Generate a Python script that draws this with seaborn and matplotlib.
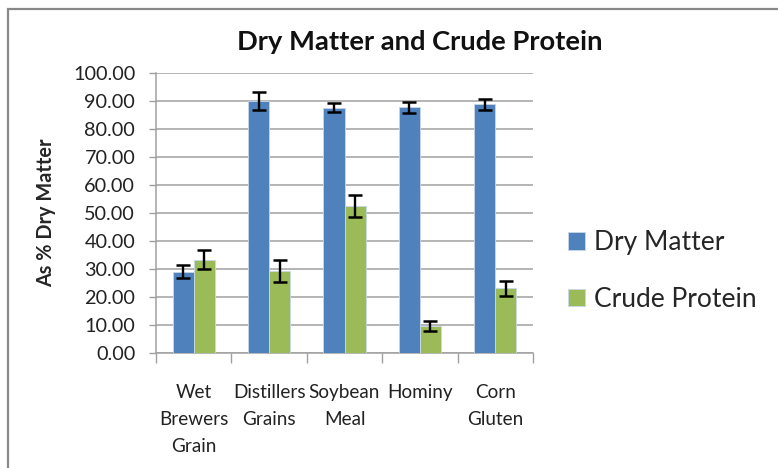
import matplotlib
matplotlib.use("Agg")
import matplotlib.pyplot as plt
import matplotlib.patches as mpatches
from matplotlib.ticker import FixedLocator, FormatStrFormatter
import seaborn as sns
import pandas as pd
import numpy as np

categories = ["Wet\nBrewers\nGrain", "Distillers\nGrains", "Soybean\nMeal", "Hominy", "Corn\nGluten"]
series = ["Dry Matter", "Crude Protein"]
dry_matter = [29.0, 90.0, 87.6, 87.7, 88.8]
dry_matter_err = [2.3, 3.3, 1.7, 1.9, 2.0]
crude_protein = [33.3, 29.2, 52.4, 9.7, 23.1]
crude_protein_err = [3.4, 3.9, 3.9, 1.7, 2.6]
colors = ["#4F81BD", "#9BBB59"]

df = pd.DataFrame({
    "cat": categories * 2,
    "series": [series[0]] * 5 + [series[1]] * 5,
    "value": dry_matter + crude_protein,
    "err": dry_matter_err + crude_protein_err,
})

sns.set_style("white")
plt.rcParams["font.family"] = ["Lato", "DejaVu Sans"]

fig = plt.figure(figsize=(7.78, 4.68), dpi=100)
ax = fig.add_axes([156/778, 1-353/468, (533-156)/778, (353-73)/468])

sns.barplot(data=df, x="cat", y="value", hue="series", palette=colors,
            saturation=1, width=0.56, errorbar=None, ax=ax, zorder=3,
            edgecolor="#c8d8ea", linewidth=0.6, legend=True)

# error bars at bar centres
for bars, errs in zip(ax.containers, [dry_matter_err, crude_protein_err]):
    xs = [b.get_x() + b.get_width()/2 for b in bars]
    hs = [b.get_height() for b in bars]
    ax.errorbar(xs, hs, yerr=errs, fmt="none", ecolor="black",
                elinewidth=1.7, capsize=5, capthick=1.8, zorder=4)

ax.set_ylim(0, 100)
ax.set_xlim(-0.5, 4.5)
ax.yaxis.set_major_locator(FixedLocator(np.arange(0, 101, 10)))
ax.yaxis.set_major_formatter(FormatStrFormatter("%.2f"))
ax.grid(axis="y", color="#a0a0a0", linewidth=1.1, zorder=0)
ax.set_axisbelow(True)

for s in ["top", "right"]:
    ax.spines[s].set_visible(False)
for s in ["left", "bottom"]:
    ax.spines[s].set_color("#a0a0a0")
    ax.spines[s].set_linewidth(1.1)

ax.tick_params(axis="y", length=5, width=1.0, color="#a0a0a0", direction="out",
               labelsize=14.3, labelcolor="#222222", pad=10, left=True)
ax.set_xticks(range(5))
ax.set_xticklabels(categories, fontsize=13.6, color="#222222", linespacing=1.72)
ax.tick_params(axis="x", which="major", length=0, pad=22)
ax.xaxis.set_minor_locator(FixedLocator(np.arange(-0.5, 5, 1)))
ax.tick_params(axis="x", which="minor", length=7, width=1.0, color="#a0a0a0",
               direction="out", bottom=True)

ax.set_xlabel("")
ax.set_ylabel("As % Dry Matter", fontsize=14.3, fontweight="bold", labelpad=12)

fig.text(420/778, 1-42/468, "Dry Matter and Crude Protein", ha="center", va="center",
         fontsize=19.7, fontweight="bold", color="#111111")

handles, labels = ax.get_legend_handles_labels()
ax.legend(handles, labels, loc="center left", bbox_to_anchor=(568/778, 1-271/468),
          bbox_transform=fig.transFigure, frameon=False, fontsize=19,
          borderpad=0, borderaxespad=0,
          handlelength=0.65, handleheight=0.65, handletextpad=0.35, labelspacing=1.2)

frame = mpatches.Rectangle((8/778, -0.05), 1.2, 1-9/468+0.05, transform=fig.transFigure,
                           fill=False, edgecolor="#888888", linewidth=1.6, clip_on=False)
fig.patches.append(frame)

fig.savefig("out.png", dpi=100)
